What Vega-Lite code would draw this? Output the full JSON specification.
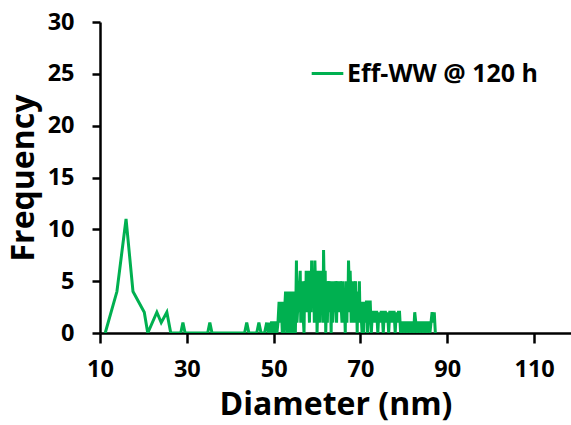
{
  "$schema": "https://vega.github.io/schema/vega-lite/v6.json",
  "autosize": "none",
  "width": 471,
  "height": 311,
  "padding": {"left": 100, "top": 22, "right": 0, "bottom": 92},
  "background": "white",
  "config": {
    "view": {"stroke": null},
    "font": "Open Sans",
    "axis": {"grid": false, "domainColor": "black", "tickColor": "black", "domainWidth": 2.5, "tickWidth": 2.5, "labelFont": "Open Sans", "labelFontWeight": "bold", "labelFontSize": 23.5, "labelColor": "black", "titleFont": "Open Sans", "titleFontWeight": "bold", "titleFontSize": 32, "titleColor": "black"}
  },
  "data": {"values": [
    {"d": 11.2, "f": 0}, {"d": 13.9, "f": 4}, {"d": 16.0, "f": 11}, {"d": 17.6, "f": 4}, {"d": 20.2, "f": 2}, {"d": 21.0, "f": 0},
    {"d": 23.1, "f": 2}, {"d": 24.1, "f": 1}, {"d": 25.4, "f": 2}, {"d": 26.3, "f": 0},
    {"d": 28.6, "f": 0}, {"d": 29.1, "f": 1}, {"d": 29.6, "f": 0},
    {"d": 34.8, "f": 0}, {"d": 35.3, "f": 1}, {"d": 35.8, "f": 0},
    {"d": 43.3, "f": 0}, {"d": 43.8, "f": 1}, {"d": 44.3, "f": 0},
    {"d": 46.1, "f": 0}, {"d": 46.6, "f": 1}, {"d": 47.1, "f": 0},
    {"d": 47.9, "f": 0}, {"d": 48.4, "f": 1}, {"d": 48.8, "f": 0},
    {"d": 49.00, "f": 1}, {"d": 49.25, "f": 0}, {"d": 49.50, "f": 1}, {"d": 49.75, "f": 1}, {"d": 50.00, "f": 0}, {"d": 50.25, "f": 1}, {"d": 50.50, "f": 1}, {"d": 50.75, "f": 0},
    {"d": 51.00, "f": 1}, {"d": 51.25, "f": 3}, {"d": 51.50, "f": 1}, {"d": 51.75, "f": 3}, {"d": 52.00, "f": 0}, {"d": 52.25, "f": 1}, {"d": 52.50, "f": 2}, {"d": 52.75, "f": 4},
    {"d": 53.00, "f": 1}, {"d": 53.25, "f": 4}, {"d": 53.50, "f": 2}, {"d": 53.75, "f": 0}, {"d": 54.00, "f": 3}, {"d": 54.25, "f": 1}, {"d": 54.50, "f": 3}, {"d": 54.75, "f": 2},
    {"d": 55.00, "f": 0}, {"d": 55.25, "f": 7}, {"d": 55.50, "f": 2}, {"d": 55.75, "f": 4}, {"d": 56.00, "f": 5}, {"d": 56.25, "f": 1}, {"d": 56.50, "f": 4}, {"d": 56.75, "f": 3},
    {"d": 57.00, "f": 0}, {"d": 57.25, "f": 5}, {"d": 57.50, "f": 6}, {"d": 57.75, "f": 2}, {"d": 58.00, "f": 4}, {"d": 58.25, "f": 1}, {"d": 58.50, "f": 5}, {"d": 58.75, "f": 7},
    {"d": 59.00, "f": 3}, {"d": 59.25, "f": 5}, {"d": 59.50, "f": 7}, {"d": 59.75, "f": 4}, {"d": 60.00, "f": 0}, {"d": 60.25, "f": 6}, {"d": 60.50, "f": 3}, {"d": 60.75, "f": 5},
    {"d": 61.00, "f": 2}, {"d": 61.25, "f": 4}, {"d": 61.50, "f": 8}, {"d": 61.75, "f": 3}, {"d": 62.00, "f": 0}, {"d": 62.25, "f": 5}, {"d": 62.50, "f": 4}, {"d": 62.75, "f": 2},
    {"d": 63.00, "f": 5}, {"d": 63.25, "f": 0}, {"d": 63.50, "f": 3}, {"d": 63.75, "f": 5}, {"d": 64.00, "f": 2}, {"d": 64.25, "f": 4}, {"d": 64.50, "f": 1}, {"d": 64.75, "f": 5},
    {"d": 65.00, "f": 3}, {"d": 65.25, "f": 2}, {"d": 65.50, "f": 4}, {"d": 65.75, "f": 1}, {"d": 66.00, "f": 3}, {"d": 66.25, "f": 4}, {"d": 66.50, "f": 0}, {"d": 66.75, "f": 3},
    {"d": 67.00, "f": 5}, {"d": 67.25, "f": 7}, {"d": 67.50, "f": 2}, {"d": 67.75, "f": 4}, {"d": 68.00, "f": 5}, {"d": 68.25, "f": 1}, {"d": 68.50, "f": 3}, {"d": 68.75, "f": 4},
    {"d": 69.00, "f": 2}, {"d": 69.25, "f": 0}, {"d": 69.50, "f": 3}, {"d": 69.75, "f": 5}, {"d": 70.00, "f": 2}, {"d": 70.25, "f": 1}, {"d": 70.50, "f": 2}, {"d": 70.75, "f": 0},
    {"d": 71.00, "f": 3}, {"d": 71.25, "f": 2}, {"d": 71.50, "f": 3}, {"d": 71.75, "f": 1}, {"d": 72.00, "f": 3}, {"d": 72.25, "f": 3}, {"d": 72.50, "f": 0}, {"d": 72.75, "f": 2},
    {"d": 73.00, "f": 2}, {"d": 73.25, "f": 1}, {"d": 73.50, "f": 2}, {"d": 73.75, "f": 2}, {"d": 74.00, "f": 0}, {"d": 74.25, "f": 2}, {"d": 74.50, "f": 1}, {"d": 74.75, "f": 2},
    {"d": 75.00, "f": 2}, {"d": 75.25, "f": 0}, {"d": 75.50, "f": 2}, {"d": 75.75, "f": 2}, {"d": 76.00, "f": 1}, {"d": 76.25, "f": 2}, {"d": 76.50, "f": 0}, {"d": 76.75, "f": 2},
    {"d": 77.00, "f": 2}, {"d": 77.25, "f": 1}, {"d": 77.50, "f": 2}, {"d": 77.75, "f": 2}, {"d": 78.00, "f": 0}, {"d": 78.25, "f": 2}, {"d": 78.50, "f": 1}, {"d": 78.75, "f": 2},
    {"d": 79.00, "f": 2}, {"d": 79.25, "f": 0}, {"d": 79.50, "f": 1}, {"d": 79.75, "f": 1}, {"d": 80.00, "f": 0}, {"d": 80.25, "f": 1}, {"d": 80.50, "f": 1}, {"d": 80.75, "f": 0},
    {"d": 81.00, "f": 1}, {"d": 81.25, "f": 1}, {"d": 81.50, "f": 0}, {"d": 81.75, "f": 1}, {"d": 82.00, "f": 1}, {"d": 82.25, "f": 0}, {"d": 82.50, "f": 2}, {"d": 82.75, "f": 1},
    {"d": 83.00, "f": 0}, {"d": 83.25, "f": 1}, {"d": 83.50, "f": 1}, {"d": 83.75, "f": 0}, {"d": 84.00, "f": 1}, {"d": 84.25, "f": 1}, {"d": 84.50, "f": 0}, {"d": 84.75, "f": 1},
    {"d": 85.00, "f": 1}, {"d": 85.25, "f": 0}, {"d": 85.50, "f": 1}, {"d": 85.75, "f": 1}, {"d": 86.00, "f": 0}, {"d": 86.25, "f": 1}, {"d": 86.50, "f": 2}, {"d": 86.75, "f": 1},
    {"d": 87.00, "f": 2}, {"d": 87.25, "f": 0},
    {"d": 52.125, "f": 3}, {"d": 52.375, "f": 0}, {"d": 52.625, "f": 3}, {"d": 52.875, "f": 2}, {"d": 53.125, "f": 0}, {"d": 53.375, "f": 3}, {"d": 53.625, "f": 4}, {"d": 53.875, "f": 1},
    {"d": 54.125, "f": 4}, {"d": 54.375, "f": 0}, {"d": 54.625, "f": 4}, {"d": 54.875, "f": 1}, {"d": 55.125, "f": 3}, {"d": 55.375, "f": 1}, {"d": 55.625, "f": 5}, {"d": 55.875, "f": 2},
    {"d": 56.125, "f": 6}, {"d": 56.375, "f": 2}, {"d": 56.625, "f": 5}, {"d": 56.875, "f": 1}, {"d": 57.125, "f": 4}, {"d": 57.375, "f": 2}, {"d": 57.625, "f": 4}, {"d": 57.875, "f": 6},
    {"d": 58.125, "f": 3}, {"d": 58.375, "f": 6}, {"d": 58.625, "f": 2}, {"d": 58.875, "f": 4}, {"d": 59.125, "f": 6}, {"d": 59.375, "f": 1}, {"d": 59.625, "f": 5}, {"d": 59.875, "f": 6},
    {"d": 60.125, "f": 2}, {"d": 60.375, "f": 4}, {"d": 60.625, "f": 1}, {"d": 60.875, "f": 6}, {"d": 61.125, "f": 5}, {"d": 61.375, "f": 1}, {"d": 61.625, "f": 5}, {"d": 61.875, "f": 6},
    {"d": 62.125, "f": 2}, {"d": 62.375, "f": 1}, {"d": 62.625, "f": 5}, {"d": 62.875, "f": 4}, {"d": 63.125, "f": 3}, {"d": 63.375, "f": 5}, {"d": 63.625, "f": 1}, {"d": 63.875, "f": 3},
    {"d": 64.125, "f": 5}, {"d": 64.375, "f": 2}, {"d": 64.625, "f": 4}, {"d": 64.875, "f": 2}, {"d": 65.125, "f": 5}, {"d": 65.375, "f": 5}, {"d": 65.625, "f": 2}, {"d": 65.875, "f": 5},
    {"d": 66.125, "f": 1}, {"d": 66.375, "f": 2}, {"d": 66.625, "f": 5}, {"d": 66.875, "f": 1}, {"d": 67.125, "f": 3}, {"d": 67.375, "f": 5}, {"d": 67.625, "f": 6}, {"d": 67.875, "f": 1},
    {"d": 68.125, "f": 3}, {"d": 68.375, "f": 5}, {"d": 68.625, "f": 1}, {"d": 68.875, "f": 5}, {"d": 69.125, "f": 3}, {"d": 69.375, "f": 4}, {"d": 69.625, "f": 1}, {"d": 69.875, "f": 2},
    {"d": 70.125, "f": 3}, {"d": 70.375, "f": 0}, {"d": 70.625, "f": 3}, {"d": 70.875, "f": 2}, {"d": 71.125, "f": 1}, {"d": 71.375, "f": 3}, {"d": 71.625, "f": 0}, {"d": 71.875, "f": 3}
  ]},
  "mark": {"type": "line", "strokeWidth": 3, "strokeJoin": "miter", "clip": true},
  "encoding": {
    "x": {"field": "d", "type": "quantitative", "title": "Diameter (nm)",
      "scale": {"domain": [10, 118.5], "nice": false, "zero": false},
      "axis": {"values": [10, 30, 50, 70, 90, 110], "tickSize": 10, "labelPadding": 14, "titlePadding": 9, "labelFlush": false}},
    "y": {"field": "f", "type": "quantitative", "title": "Frequency",
      "scale": {"domain": [0, 30], "nice": false},
      "axis": {"values": [0, 5, 10, 15, 20, 25, 30], "tickSize": 8, "labelPadding": 18, "titlePadding": 7}},
    "color": {"datum": "Eff-WW @ 120 h", "type": "nominal",
      "scale": {"range": ["#00B050"]},
      "legend": {"title": null, "orient": "none", "legendX": 210, "legendY": 34,
        "symbolType": "stroke", "symbolSize": 1000, "symbolStrokeWidth": 3,
        "labelFont": "Open Sans", "labelFontWeight": "bold", "labelFontSize": 25, "labelColor": "black", "labelOffset": 2, "labelLimit": 400}}
  }
}
